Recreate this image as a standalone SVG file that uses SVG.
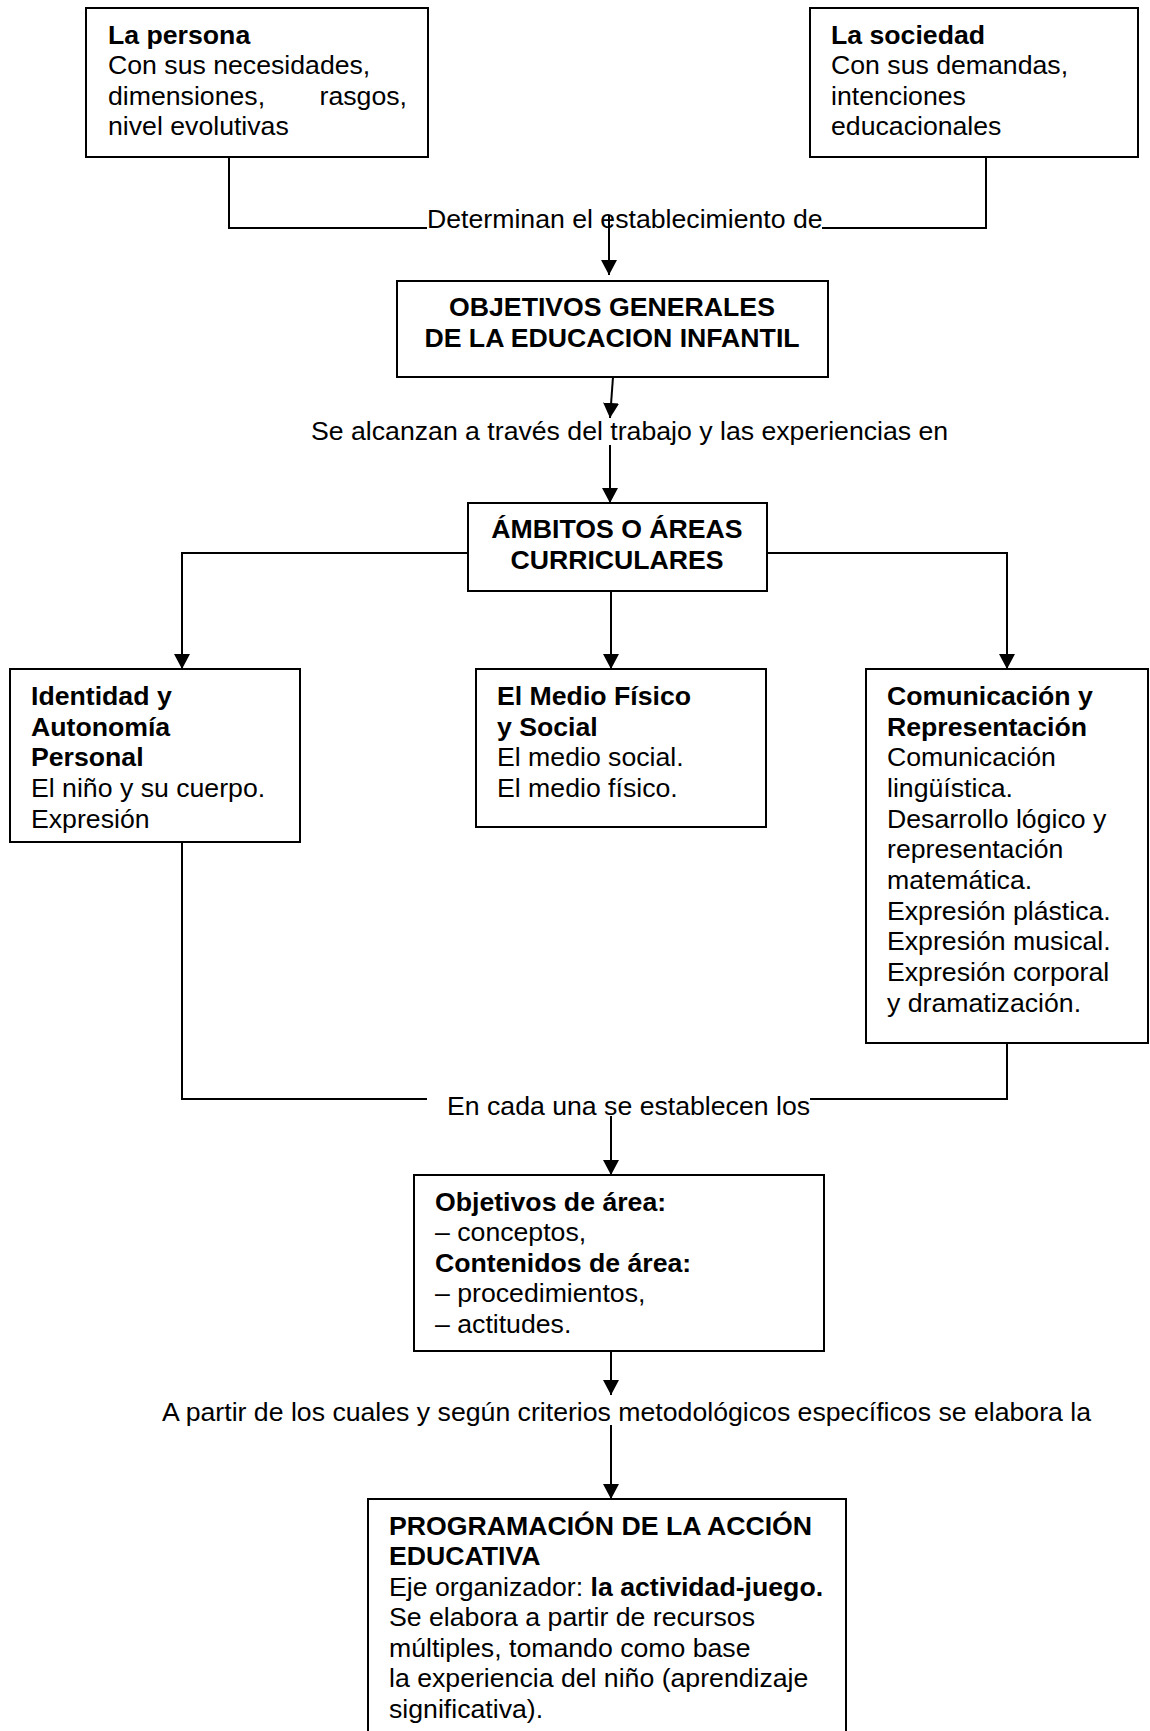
<svg xmlns="http://www.w3.org/2000/svg" width="1150" height="1731" viewBox="0 0 1150 1731">
<style>
text{font-family:"Liberation Sans",Arial,sans-serif;font-size:26.67px;fill:#000}
.b{font-weight:bold}
.c{text-anchor:middle}
.box{fill:#fff;stroke:#000;stroke-width:2}
.ln{fill:none;stroke:#000;stroke-width:2}
</style>
<defs>
<marker id="ah" markerUnits="userSpaceOnUse" markerWidth="16" markerHeight="16" refX="15" refY="8" orient="auto">
<path d="M0,0 L15,8 L0,16 Z" fill="#000"/>
</marker>
</defs>
<rect width="1150" height="1731" fill="#fff"/>
<g id="connectors">
<polyline class="ln" points="229,157 229,228 427,228"/>
<polyline class="ln" points="986,157 986,228 822,228"/>
<line class="ln" x1="609" y1="215" x2="609" y2="275" marker-end="url(#ah)"/>
<line class="ln" x1="613" y1="377" x2="610" y2="418" marker-end="url(#ah)"/>
<line class="ln" x1="610" y1="445" x2="610" y2="503" marker-end="url(#ah)"/>
<polyline class="ln" points="468,553 182,553 182,669" marker-end="url(#ah)"/>
<line class="ln" x1="611" y1="591" x2="611" y2="669" marker-end="url(#ah)"/>
<polyline class="ln" points="767,553 1007,553 1007,669" marker-end="url(#ah)"/>
<polyline class="ln" points="182,842 182,1099 427,1099"/>
<polyline class="ln" points="1007,1043 1007,1099 810,1099"/>
<line class="ln" x1="611" y1="1116" x2="611" y2="1175" marker-end="url(#ah)"/>
<line class="ln" x1="611" y1="1351" x2="611" y2="1395" marker-end="url(#ah)"/>
<line class="ln" x1="611" y1="1425" x2="611" y2="1499" marker-end="url(#ah)"/>
<text x="427" y="228">Determinan el establecimiento de</text>
<text x="311" y="440">Se alcanzan a través del trabajo y las experiencias en</text>
<text x="447" y="1115">En cada una se establecen los</text>
<text x="162" y="1421">A partir de los cuales y según criterios metodológicos específicos se elabora la</text>
</g>
<g id="persona">
<rect class="box" x="86" y="8" width="342" height="149"/>
<text class="b" x="108" y="44">La persona</text>
<text x="108" y="74">Con sus necesidades,</text>
<text x="108" y="105">dimensiones,</text>
<text x="407" y="105" text-anchor="end">rasgos,</text>
<text x="108" y="135">nivel evolutivas</text>
</g>
<g id="sociedad">
<rect class="box" x="810" y="8" width="328" height="149"/>
<text class="b" x="831" y="44">La sociedad</text>
<text x="831" y="74">Con sus demandas,</text>
<text x="831" y="105">intenciones</text>
<text x="831" y="135">educacionales</text>
</g>
<g id="objetivos-generales">
<rect class="box" x="397" y="281" width="431" height="96"/>
<text class="b c" x="612" y="316">OBJETIVOS GENERALES</text>
<text class="b c" x="612" y="347">DE LA EDUCACION INFANTIL</text>
</g>
<g id="ambitos">
<rect class="box" x="468" y="503" width="299" height="88"/>
<text class="b c" x="617" y="538">ÁMBITOS O ÁREAS</text>
<text class="b c" x="617" y="569">CURRICULARES</text>
</g>
<g id="identidad">
<rect class="box" x="10" y="669" width="290" height="173"/>
<text class="b" x="31" y="705">Identidad y</text>
<text class="b" x="31" y="736">Autonomía</text>
<text class="b" x="31" y="766">Personal</text>
<text x="31" y="797">El niño y su cuerpo.</text>
<text x="31" y="828">Expresión</text>
</g>
<g id="medio">
<rect class="box" x="476" y="669" width="290" height="158"/>
<text class="b" x="497" y="705">El Medio Físico</text>
<text class="b" x="497" y="736">y Social</text>
<text x="497" y="766">El medio social.</text>
<text x="497" y="797">El medio físico.</text>
</g>
<g id="comunicacion">
<rect class="box" x="866" y="669" width="282" height="374"/>
<text class="b" x="887" y="705">Comunicación y</text>
<text class="b" x="887" y="736">Representación</text>
<text x="887" y="766">Comunicación</text>
<text x="887" y="797">lingüística.</text>
<text x="887" y="828">Desarrollo lógico y</text>
<text x="887" y="858">representación</text>
<text x="887" y="889">matemática.</text>
<text x="887" y="920">Expresión plástica.</text>
<text x="887" y="950">Expresión musical.</text>
<text x="887" y="981">Expresión corporal</text>
<text x="887" y="1012">y dramatización.</text>
</g>
<g id="objetivos-area">
<rect class="box" x="414" y="1175" width="410" height="176"/>
<text class="b" x="435" y="1211">Objetivos de área:</text>
<text x="435" y="1241">– conceptos,</text>
<text class="b" x="435" y="1272">Contenidos de área:</text>
<text x="435" y="1302">– procedimientos,</text>
<text x="435" y="1333">– actitudes.</text>
</g>
<g id="programacion">
<rect class="box" x="368" y="1499" width="478" height="260"/>
<text class="b" x="389" y="1535">PROGRAMACIÓN DE LA ACCIÓN</text>
<text class="b" x="389" y="1565">EDUCATIVA</text>
<text x="389" y="1596">Eje organizador: <tspan class="b">la actividad-juego.</tspan></text>
<text x="389" y="1626">Se elabora a partir de recursos</text>
<text x="389" y="1657">múltiples, tomando como base</text>
<text x="389" y="1687">la experiencia del niño (aprendizaje</text>
<text x="389" y="1718">significativa).</text>
</g>
</svg>
